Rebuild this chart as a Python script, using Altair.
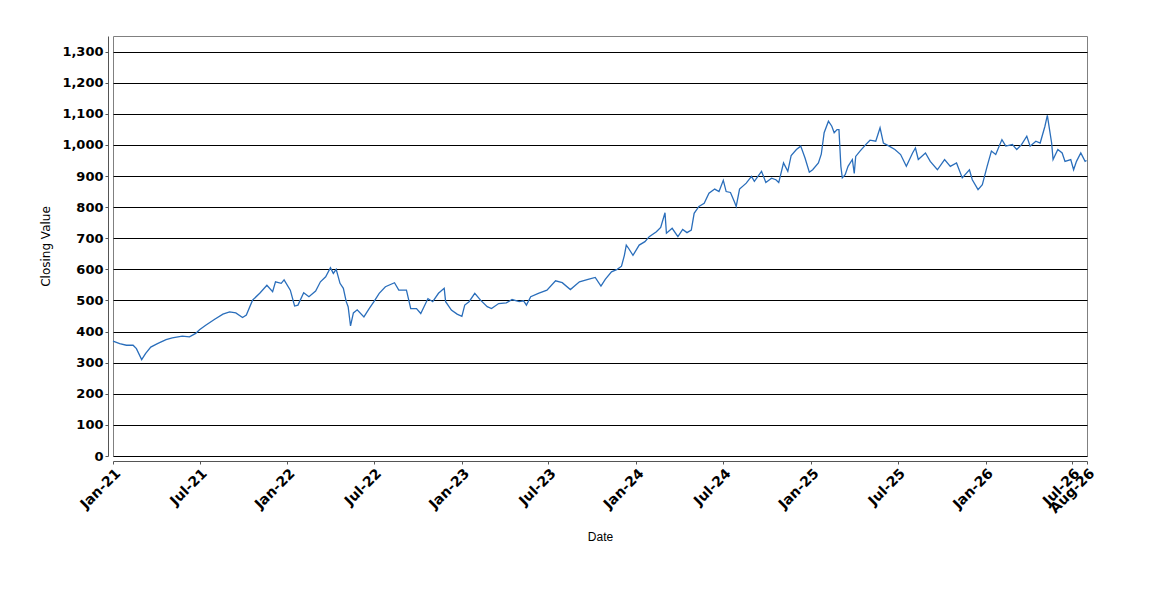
import altair as alt
import pandas as pd

dates = [
    "2021-01-01", "2021-01-15", "2021-01-29", "2021-02-12", "2021-02-19", "2021-03-02", "2021-03-10",
    "2021-03-21", "2021-04-04", "2021-04-22", "2021-05-05", "2021-05-26", "2021-06-10", "2021-06-23",
    "2021-07-01", "2021-07-14", "2021-08-01", "2021-08-19", "2021-09-02", "2021-09-15", "2021-09-29",
    "2021-10-07", "2021-10-20", "2021-11-04", "2021-11-19", "2021-12-01", "2021-12-07", "2021-12-19",
    "2021-12-25", "2022-01-07", "2022-01-16", "2022-01-23", "2022-02-04", "2022-02-15", "2022-03-01",
    "2022-03-11", "2022-03-22", "2022-04-01", "2022-04-07", "2022-04-13", "2022-04-21", "2022-04-28",
    "2022-05-04", "2022-05-08", "2022-05-13", "2022-05-19", "2022-05-27", "2022-06-10", "2022-06-21",
    "2022-07-01", "2022-07-12", "2022-07-25", "2022-08-13", "2022-08-22", "2022-09-07", "2022-09-16",
    "2022-09-28", "2022-10-07", "2022-10-22", "2022-11-01", "2022-11-13", "2022-11-25", "2022-11-28",
    "2022-12-10", "2022-12-22", "2023-01-01", "2023-01-07", "2023-01-16", "2023-01-28", "2023-02-09",
    "2023-02-23", "2023-03-04", "2023-03-19", "2023-04-04", "2023-04-16", "2023-05-01", "2023-05-10",
    "2023-05-16", "2023-05-25", "2023-06-10", "2023-06-28", "2023-07-16", "2023-07-30", "2023-08-16",
    "2023-09-04", "2023-09-22", "2023-10-07", "2023-10-19", "2023-10-28", "2023-11-10", "2023-11-22",
    "2023-12-01", "2023-12-07", "2023-12-11", "2023-12-16", "2023-12-25", "2024-01-07", "2024-01-19",
    "2024-01-28", "2024-02-12", "2024-02-21", "2024-03-01", "2024-03-04", "2024-03-16", "2024-03-28",
    "2024-04-07", "2024-04-16", "2024-04-25", "2024-05-01", "2024-05-11", "2024-05-22", "2024-06-01",
    "2024-06-13", "2024-06-22", "2024-07-01", "2024-07-07", "2024-07-16", "2024-07-24", "2024-07-28",
    "2024-08-04", "2024-08-18", "2024-08-29", "2024-09-04", "2024-09-19", "2024-09-28", "2024-10-10",
    "2024-10-19", "2024-10-25", "2024-11-04", "2024-11-13", "2024-11-20", "2024-12-01", "2024-12-10",
    "2024-12-19", "2024-12-28", "2025-01-04", "2025-01-16", "2025-01-22", "2025-01-28", "2025-02-06",
    "2025-02-13", "2025-02-18", "2025-02-24", "2025-02-28", "2025-03-04", "2025-03-07", "2025-03-13",
    "2025-03-19", "2025-03-28", "2025-04-01", "2025-04-04", "2025-04-13", "2025-04-25", "2025-05-04",
    "2025-05-16", "2025-05-25", "2025-06-01", "2025-06-13", "2025-06-25", "2025-07-07", "2025-07-19",
    "2025-08-01", "2025-08-07", "2025-08-13", "2025-08-28", "2025-09-07", "2025-09-22", "2025-10-07",
    "2025-10-19", "2025-11-01", "2025-11-13", "2025-11-28", "2025-12-04", "2025-12-16", "2025-12-25",
    "2026-01-04", "2026-01-13", "2026-01-22", "2026-02-04", "2026-02-12", "2026-02-26", "2026-03-07",
    "2026-03-17", "2026-03-28", "2026-04-04", "2026-04-16", "2026-04-25", "2026-05-05", "2026-05-10",
    "2026-05-19", "2026-05-22", "2026-06-01", "2026-06-10", "2026-06-16", "2026-06-28", "2026-07-04",
    "2026-07-10", "2026-07-19", "2026-07-28", "2026-07-31",
]

values = [
    369, 361, 356, 356, 345, 310, 329,
    350, 361, 374, 380, 385, 383, 394,
    406, 420, 439, 456, 463, 460, 445,
    453, 501, 523, 549, 528, 560, 555,
    566, 533, 482, 485, 525, 512, 530,
    560, 576, 605, 587, 600, 555, 539,
    496, 480, 418, 460, 470, 447, 474,
    496, 523, 544, 557, 533, 533, 474,
    474, 458, 506, 496, 523, 539, 496,
    469, 456, 449, 485, 496, 523, 501,
    480, 474, 490, 492, 503, 496, 499,
    485, 512, 523, 533, 563, 557, 535,
    560, 568, 574, 546, 568, 592, 600,
    610, 645, 678, 667, 645, 678, 689,
    705, 721, 735, 782, 716, 732, 705,
    728, 718, 726, 780, 802, 812, 845,
    858, 850, 886, 850, 847, 818, 802,
    858, 877, 899, 883, 915, 879, 893,
    888, 879, 942, 915, 966, 985, 996,
    958, 912, 920, 942, 970, 1039, 1076,
    1060, 1039, 1049, 1049, 931, 894, 904,
    931, 953, 908, 963, 980, 1001, 1015,
    1012, 1055, 1006, 996, 985, 969, 931,
    974, 990, 953, 974, 947, 920, 953,
    931, 942, 894, 920, 888, 856, 872,
    931, 980, 969, 1017, 996, 1001, 985,
    1001, 1028, 996, 1012, 1006, 1060, 1095,
    1006, 953, 985, 974, 947, 953, 920,
    947, 974, 947, 950,
]

y_ticks = list(range(0, 1400, 100))
x_ticks = [(2021, 1), (2021, 7), (2022, 1), (2022, 7), (2023, 1), (2023, 7), (2024, 1),
           (2024, 7), (2025, 1), (2025, 7), (2026, 1), (2026, 7), (2026, 8)]

df = pd.DataFrame({"date": dates, "value": values})

x_vals = [alt.DateTime(year=y, month=m, date=1, utc=True) for (y, m) in x_ticks]

chart = alt.Chart(df).mark_line(color="#2a6ebb", strokeWidth=1.3).encode(
    x=alt.X(
        "date:T",
        scale=alt.Scale(
            type="utc",
            domain=[alt.DateTime(year=2021, month=1, date=1, utc=True),
                    alt.DateTime(year=2026, month=8, date=1, utc=True)],
        ),
        axis=alt.Axis(
            title="Date",
            values=x_vals,
            labelExpr="utcFormat(datum.value, '%b-%y')",
            labelAngle=315,
            labelOverlap=False,
            labelFlush=False,
            labelBound=False,
            grid=False,
            offset=5,
            tickSize=3,
            labelPadding=2,
            labelFont="DejaVu Sans",
            labelFontWeight="bold",
            labelFontSize=14,
            labelColor="#000",
            titleFont="Liberation Sans",
            titleFontSize=12,
            titleFontWeight="normal",
            titleColor="#000",
            titleY=75,
            titleBaseline="middle",
        ),
    ),
    y=alt.Y(
        "value:Q",
        scale=alt.Scale(domain=[0, 1350], nice=False, zero=True),
        axis=alt.Axis(
            title="Closing Value",
            values=y_ticks,
            format=",d",
            grid=True,
            gridColor="#000",
            gridOpacity=1,
            gridWidth=1,
            offset=5,
            tickSize=3,
            labelPadding=2,
            labelFont="DejaVu Sans",
            labelFontWeight="bold",
            labelFontSize=13,
            labelColor="#000",
            titleFont="DejaVu Sans",
            titleFontSize=12,
            titleFontWeight="normal",
            titleColor="#000",
            titleX=-63,
            titleBaseline="middle",
        ),
    ),
).properties(
    width=974,
    height=420,
    autosize=alt.AutoSizeParams(type="none"),
    padding={"left": 105, "top": 28, "right": 55, "bottom": 128},
).configure_view(
    stroke="#808080",
    strokeWidth=1,
).configure_axis(
    domainColor="#555",
    tickColor="#555",
)

chart.save("out.html", embed_options={"renderer": "svg", "actions": False})
